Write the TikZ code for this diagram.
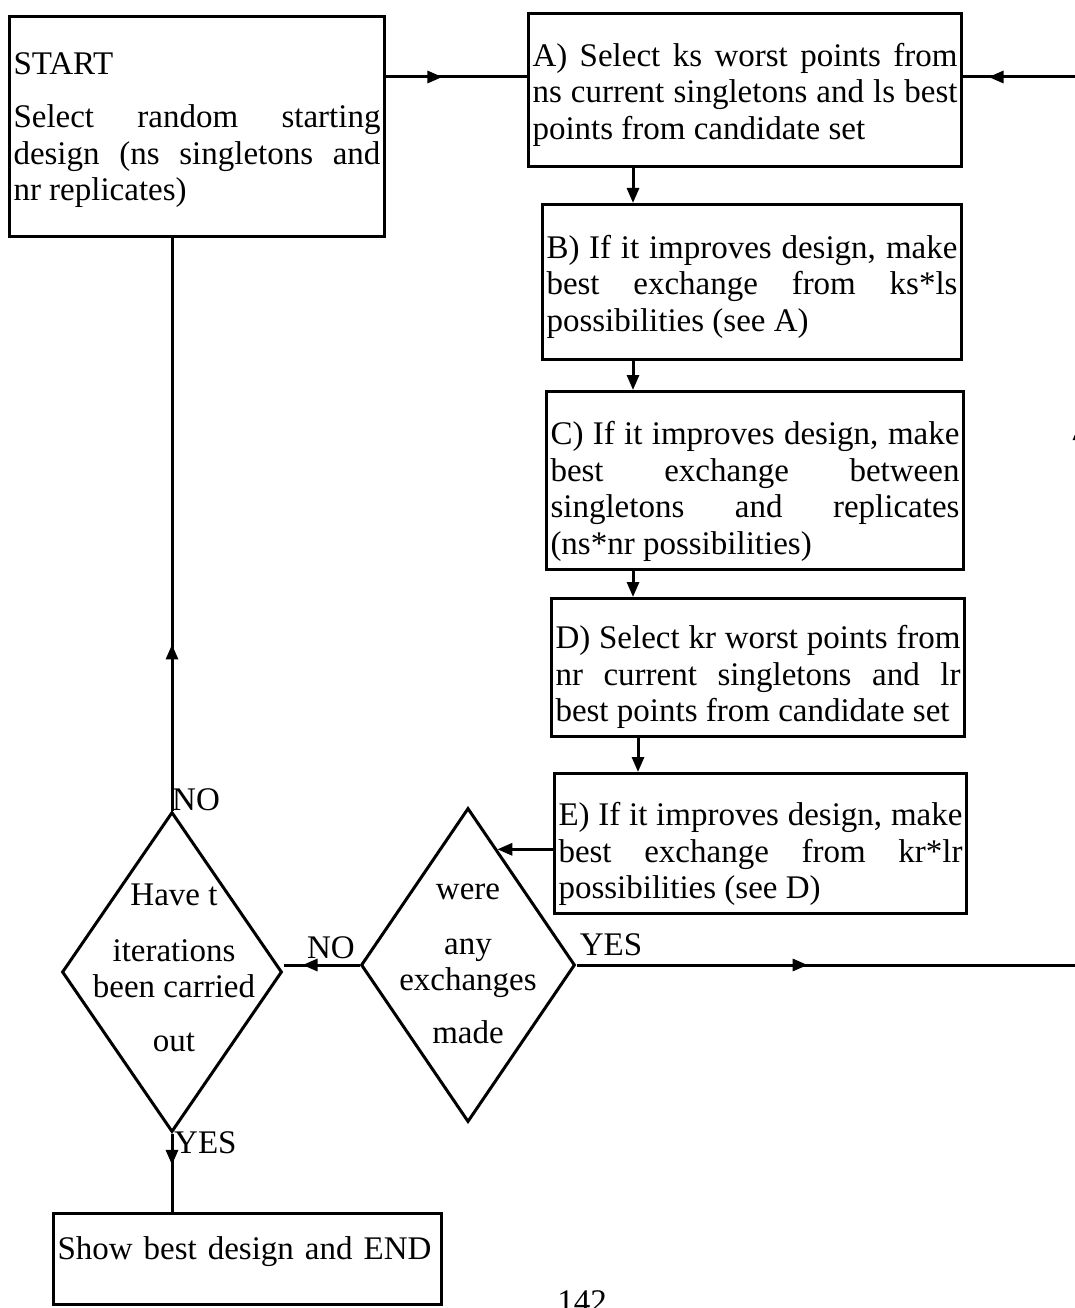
\documentclass[tikz,border=0pt]{standalone}
\usepackage{fontspec}
\setmainfont{Liberation Serif}
\usetikzlibrary{arrows.meta,shapes.geometric,decorations.markings,calc}

% body text of the chart: justified lines, no hyphenation
\newcommand{\flowfont}{\fontsize{33}{36.5}\selectfont\tolerance=10000\hbadness=10000\hyphenpenalty=10000\exhyphenpenalty=10000}
% invisible struts that lower (\lowertext) or raise (\raisetext) a text block in its box
\newcommand{\lowertext}[1]{\rule{0pt}{#1pt}}
\newcommand{\raisetext}[1]{\rule[-#1pt]{0pt}{#1pt}}

\begin{document}
\begin{tikzpicture}[x=1pt,y=-1pt,
  box/.style={draw, line width=3pt, rectangle, anchor=north west, inner xsep=4pt, inner ysep=0pt, align=justify, font=\flowfont},
  dec/.style={draw, line width=3pt, diamond, inner sep=0pt},
  dtext/.style={align=center, font=\flowfont, inner sep=0pt},
  lbl/.style={font=\flowfont, inner sep=0pt},
  link/.style={line width=3pt},
  tip/.style={-{Triangle[length=15pt,width=12pt]}},
  arrowat/.style={postaction={decorate}, decoration={markings, mark=at position #1 with {\arrow{Triangle[length=15pt,width=12pt]}}}},
]
\useasboundingbox (0,0) rectangle (1075,1308);
\clip (0,0) rectangle (1075,1308);

% guide coordinates for the connectors
\coordinate (topline) at (0,77);
\coordinate (spine) at (633,0);
\coordinate (spine2) at (638,0);
\coordinate (rail) at (1079,0);

% process boxes
\node[box, minimum width=375pt, minimum height=220pt, text width=367pt] (start) at (8,15)
  {\lowertext{29}START\\[17pt]Select random starting\linebreak design (ns singletons and\linebreak nr replicates)};
\node[box, minimum width=433pt, minimum height=153pt, text width=425pt] (A) at (527,12)
  {\lowertext{33}A) Select ks worst points from\linebreak ns current singletons and ls best\linebreak points from candidate set};
\node[box, minimum width=419pt, minimum height=155pt, text width=411pt] (B) at (541,203)
  {\lowertext{33}B) If it improves design, make\linebreak best exchange from ks*ls\linebreak possibilities (see A)};
\node[box, minimum width=417pt, minimum height=178pt, text width=409pt] (C) at (545,390)
  {\lowertext{45}C) If it improves design, make\linebreak best exchange between\linebreak singletons and replicates\linebreak (ns*nr possibilities)};
\node[box, minimum width=413pt, minimum height=138pt, text width=405pt] (D) at (550,597)
  {\lowertext{43}D) Select kr worst points from\linebreak nr current singletons and lr\linebreak best points from candidate set};
\node[box, minimum width=412pt, minimum height=140pt, text width=404pt] (E) at (553,772)
  {\lowertext{45}E) If it improves design, make\linebreak best exchange from kr*lr\linebreak possibilities (see D)};
\node[box, align=left, minimum width=388pt, minimum height=91pt, text width=380pt] (end) at (52,1212)
  {Show best design and END\raisetext{21}};

% decisions
\node[dec, minimum width=220pt, minimum height=320pt] (d1) at (172,972) {};
\node[dtext] (d1txt) at (174,968) {Have t\\[19pt]iterations\\been carried\\[17pt]out};
\node[dec, minimum width=214pt, minimum height=314pt] (d2) at (468,965) {};
\node[dtext] (d2txt) at (468,964) {were\\[18pt]any\\exchanges\\[16pt]made};

% branch labels
\node[lbl, anchor=west] (lno1) at (172,800) {NO};
\node[lbl, anchor=west] (lyes1) at (174,1143) {YES};
\node[lbl] (lno2) at (331,948) {NO};
\node[lbl] (lyes2) at (611,945) {YES};

% page number
\node[lbl, anchor=north] (pageno) at (582,1290) {142};

% connectors
\draw[link, arrowat=0.4] (start.east |- topline) -- (A.west |- topline);
\draw[link, tip] (A.south -| spine) -- (B.north -| spine);
\draw[link, tip] (B.south -| spine) -- (C.north -| spine);
\draw[link, tip] (C.south -| spine) -- (D.north -| spine);
\draw[link, tip] (D.south -| spine2) -- (E.north -| spine2);
\coordinate (ein) at ($(d2.north)!0.27!(d2.east)$);
\draw[link, tip] (E.west |- ein) -- (ein);
\draw[link, arrowat=0.75] (d2.west) -- (d2.west -| d1.east);
\draw[link, arrowat=0.29] (d1.north) -- (d1.north |- start.south);
\draw[link, arrowat=0.4] (d1.south) -- (end.north -| d1.south);
\draw[link, arrowat=0.46] (d2.east) -- (d2.east -| rail);
\draw[link, arrowat=0.608] (d2.east -| rail) -- (rail |- topline);
\draw[link, arrowat=0.78] (rail |- topline) -- (A.east |- topline);
\end{tikzpicture}
\end{document}
